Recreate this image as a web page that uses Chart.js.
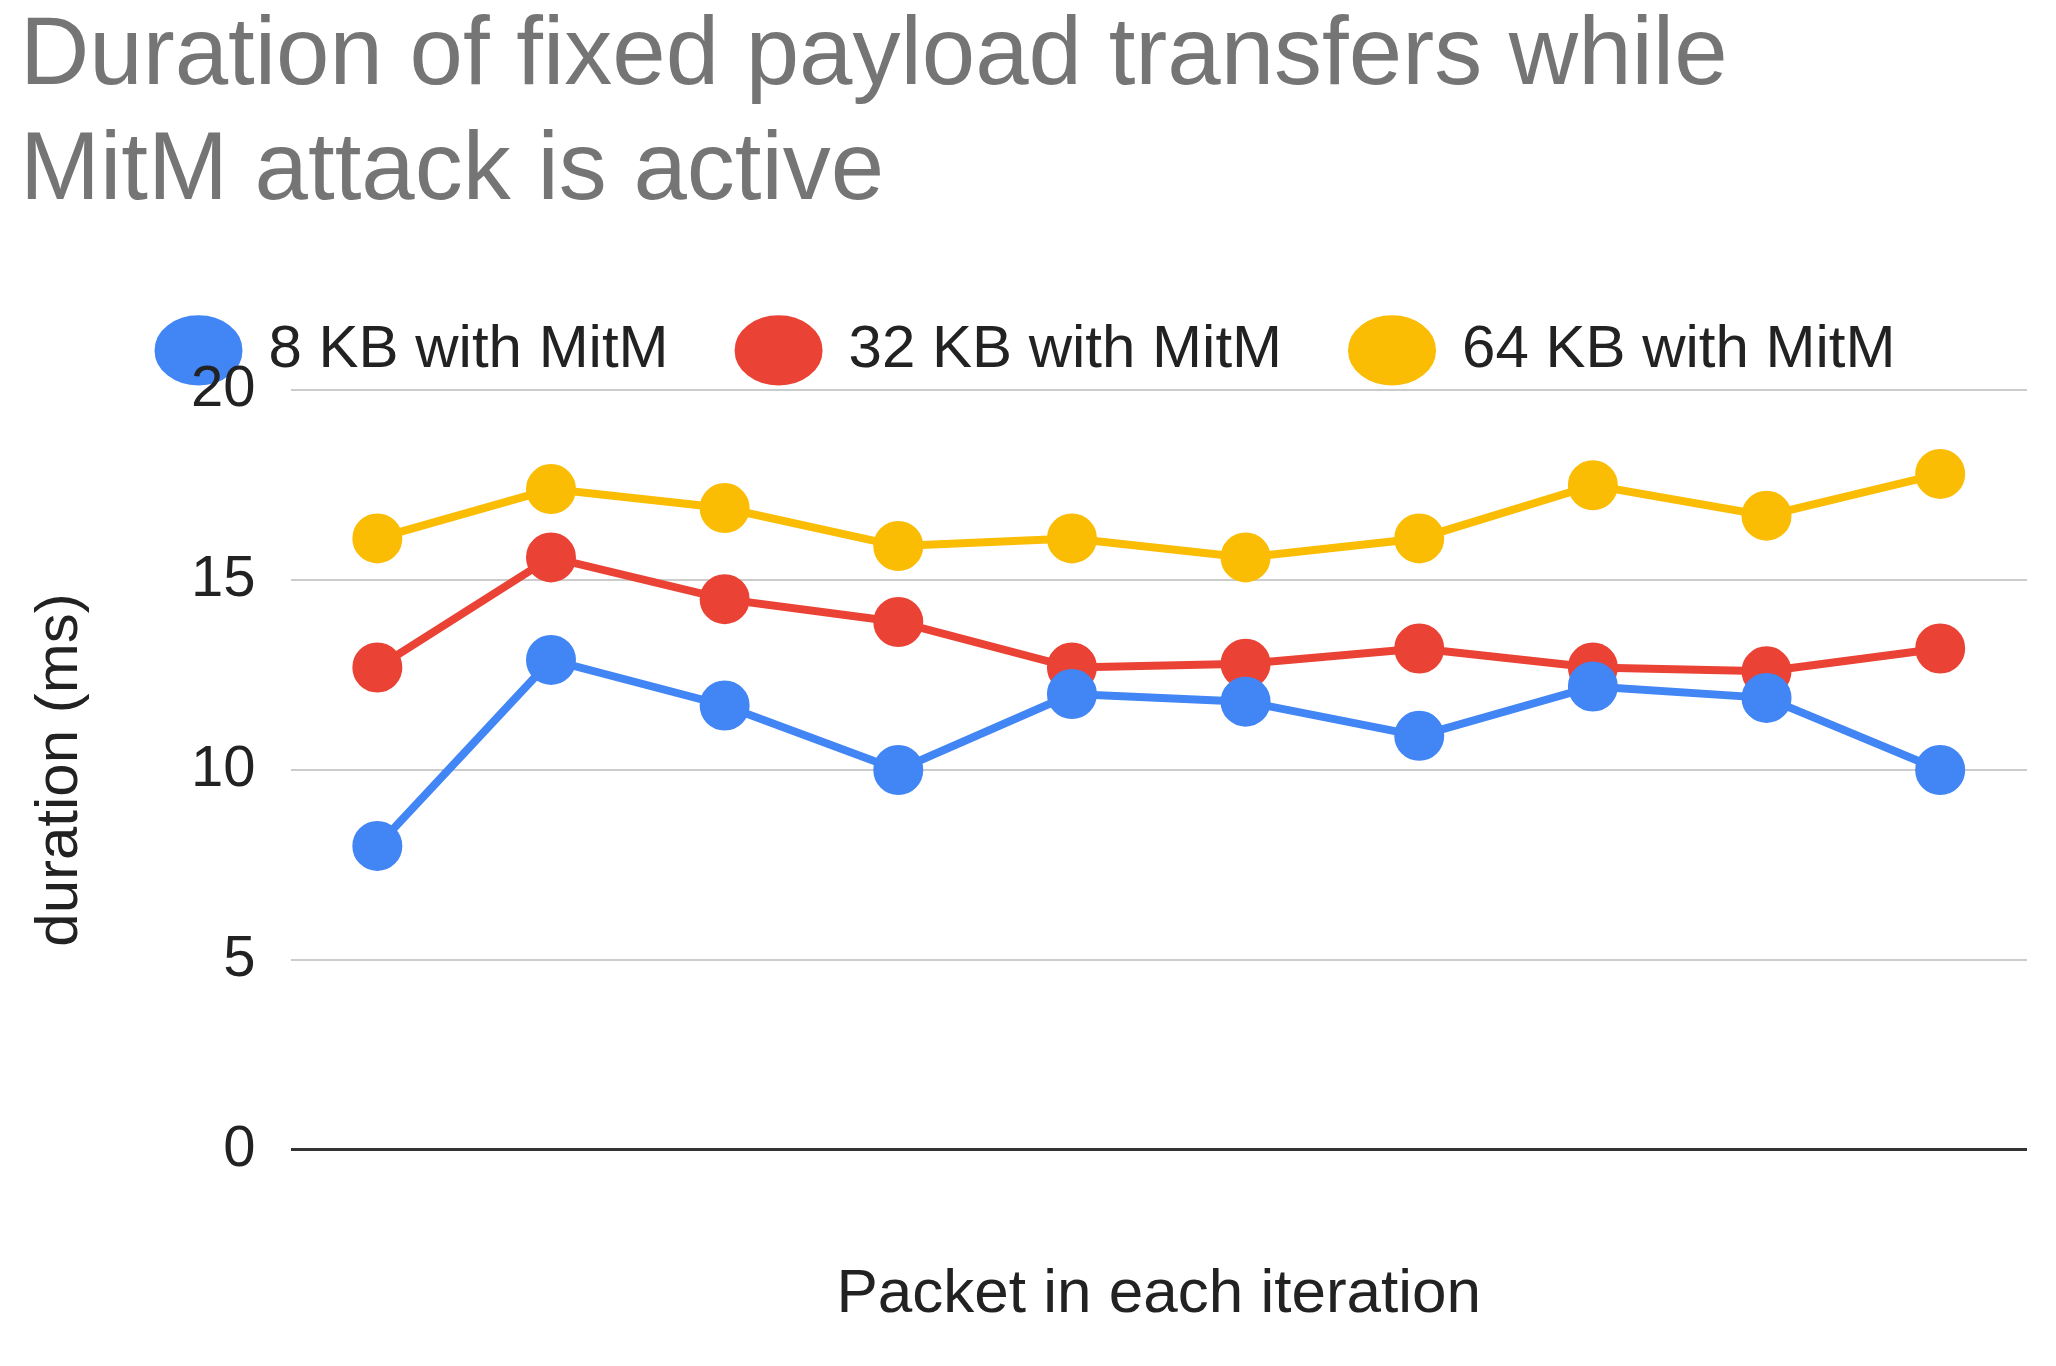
<!DOCTYPE html>
<html><head><meta charset="utf-8">
<script src="https://cdn.jsdelivr.net/npm/chart.js@4"></script>
<style>html,body{margin:0;background:#fff}#w{width:2056px;height:1366px}</style>
</head><body><div id="w"><canvas id="c"></canvas></div>
<script>
const categories=["1","2","3","4","5","6","7","8","9","10"];
const kb8=[8,12.9,11.7,10,12,11.8,10.9,12.2,11.9,10];
const kb32=[12.7,15.6,14.5,13.9,12.7,12.8,13.2,12.7,12.6,13.2];
const kb64=[16.1,17.4,16.9,15.9,16.1,15.6,16.1,17.5,16.7,17.8];
const yTicks=[0,5,10,15,20];
const F="'Liberation Sans', Arial, sans-serif";
function ds(label,data,color){return{label,data,borderColor:color,backgroundColor:color,pointBackgroundColor:color,pointBorderColor:color,borderWidth:8,pointRadius:21,pointHoverRadius:21};}
new Chart(document.getElementById('c'),{type:'line',
data:{labels:categories,datasets:[ds('8 KB with MitM',kb8,'#4285f4'),ds('32 KB with MitM',kb32,'#ea4335'),ds('64 KB with MitM',kb64,'#fbbc04')]},
options:{responsive:true,maintainAspectRatio:false,animation:false,
layout:{padding:{left:20,right:22,top:0,bottom:30}},
plugins:{title:{display:true,text:['Duration of fixed payload transfers while','MitM attack is active'],align:'start',color:'#757575',font:{family:F,size:96,weight:'normal'},padding:{top:0,bottom:20},lineHeight:0.95},
legend:{display:true,align:'center',labels:{usePointStyle:true,pointStyle:'circle',boxWidth:44,boxHeight:44,pointStyleWidth:80,padding:70,color:'#222',font:{family:F,size:60}}},tooltip:{enabled:false}},
scales:{x:{offset:true,grid:{display:false},border:{display:false},ticks:{display:false},title:{display:true,text:'Packet in each iteration',color:'#222',font:{family:F,size:62},padding:{top:100}}},
y:{min:0,max:20,afterBuildTicks:a=>{a.ticks=yTicks.map(v=>({value:v}))},grid:{color:c=>c.tick.value===0?'#333':'#ccc',lineWidth:c=>c.tick.value===0?3:2,drawTicks:false},border:{display:false},
ticks:{padding:35,color:'#222',font:{family:F,size:58}},title:{display:true,text:'duration (ms)',color:'#222',font:{family:F,size:60},padding:{bottom:60}}}}}});
</script></body></html>
